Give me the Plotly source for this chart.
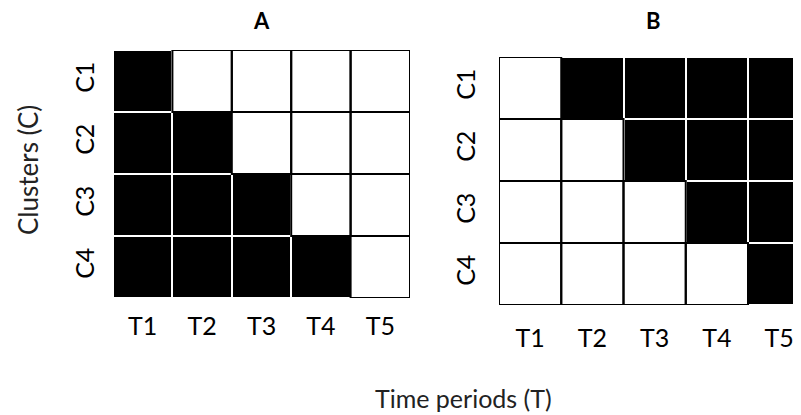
import plotly.graph_objects as go

time_labels = ["T1", "T2", "T3", "T4", "T5"]
cluster_labels = ["C1", "C2", "C3", "C4"]

# 1 = black (active), 0 = white
panel_a = [
    [1, 0, 0, 0, 0],
    [1, 1, 0, 0, 0],
    [1, 1, 1, 0, 0],
    [1, 1, 1, 1, 0],
]
panel_b = [
    [0, 1, 1, 1, 1],
    [0, 0, 1, 1, 1],
    [0, 0, 0, 1, 1],
    [0, 0, 0, 0, 1],
]
panel_titles = ["A", "B"]

FONT = "Lato"
W, H = 801, 415
OFF = 8  # page body margin


def px(v):
    return (v - OFF) / W


def py(v):
    return 1 - (v - OFF) / H


fig = go.Figure()

panels = [
    dict(z=panel_a, xa="x", ya="y", xd=[px(113), px(410)], yd=[py(298), py(50)],
         xr=[-0.5, 4.5], xstand=11, ystand=13),
    dict(z=panel_b, xa="x2", ya="y2", xd=[px(499), 1.0], yd=[py(305), py(57)],
         xr=[-0.5, 4.48], xstand=16, ystand=18),
]

shapes = []
for p in panels:
    fig.add_trace(go.Heatmap(
        z=p["z"], x=list(range(len(time_labels))), y=list(range(len(cluster_labels))),
        colorscale=[[0, "white"], [1, "black"]], zmin=0, zmax=1, showscale=False,
        xgap=2, ygap=2, xaxis=p["xa"], yaxis=p["ya"], hoverinfo="skip",
    ))
    for i, row in enumerate(p["z"]):
        for j, v in enumerate(row):
            if v == 0:
                shapes.append(dict(type="rect", xref=p["xa"], yref=p["ya"],
                                   x0=j - 0.5, x1=j + 0.5, y0=i - 0.5, y1=i + 0.5,
                                   line=dict(color="black", width=2), fillcolor="rgba(0,0,0,0)",
                                   layer="above"))

tick_font = dict(family=FONT, size=25, color="black")
for k, p in enumerate(panels):
    sx = "" if k == 0 else "2"
    fig.layout["xaxis" + sx] = dict(
        domain=p["xd"], range=p["xr"], tickvals=list(range(len(time_labels))), ticktext=time_labels,
        showgrid=False, zeroline=False, showline=False, ticks="", tickfont=tick_font,
        ticklabelstandoff=p["xstand"], anchor="y" + sx, fixedrange=True,
    )
    fig.layout["yaxis" + sx] = dict(
        domain=p["yd"], range=[3.5, -0.5], tickvals=list(range(len(cluster_labels))), ticktext=cluster_labels,
        showgrid=False, zeroline=False, showline=False, ticks="", tickfont=tick_font, tickangle=-90,
        ticklabelstandoff=p["ystand"], anchor="x" + sx, fixedrange=True,
    )

annotations = [
    dict(text="<b>%s</b>" % panel_titles[0], x=px(261), y=py(21)),
    dict(text="<b>%s</b>" % panel_titles[1], x=px(653), y=py(21)),
]
for a in annotations:
    a.update(xref="paper", yref="paper", xanchor="center", yanchor="middle", showarrow=False,
             font=dict(family=FONT, size=22, color="black"))
annotations += [
    dict(text="Clusters (C)", x=px(28), y=py(170), xref="paper", yref="paper", textangle=-90,
         xanchor="center", yanchor="middle", showarrow=False,
         font=dict(family=FONT, size=26, color="#222")),
    dict(text="Time periods (T)", x=px(463), y=py(398), xref="paper", yref="paper",
         xanchor="center", yanchor="middle", showarrow=False,
         font=dict(family=FONT, size=25, color="#222")),
]

fig.update_layout(
    width=W, height=H, margin=dict(l=0, r=0, t=0, b=0),
    paper_bgcolor="white", plot_bgcolor="white", showlegend=False,
    shapes=shapes, annotations=annotations,
)

fig.write_html("out.html")
